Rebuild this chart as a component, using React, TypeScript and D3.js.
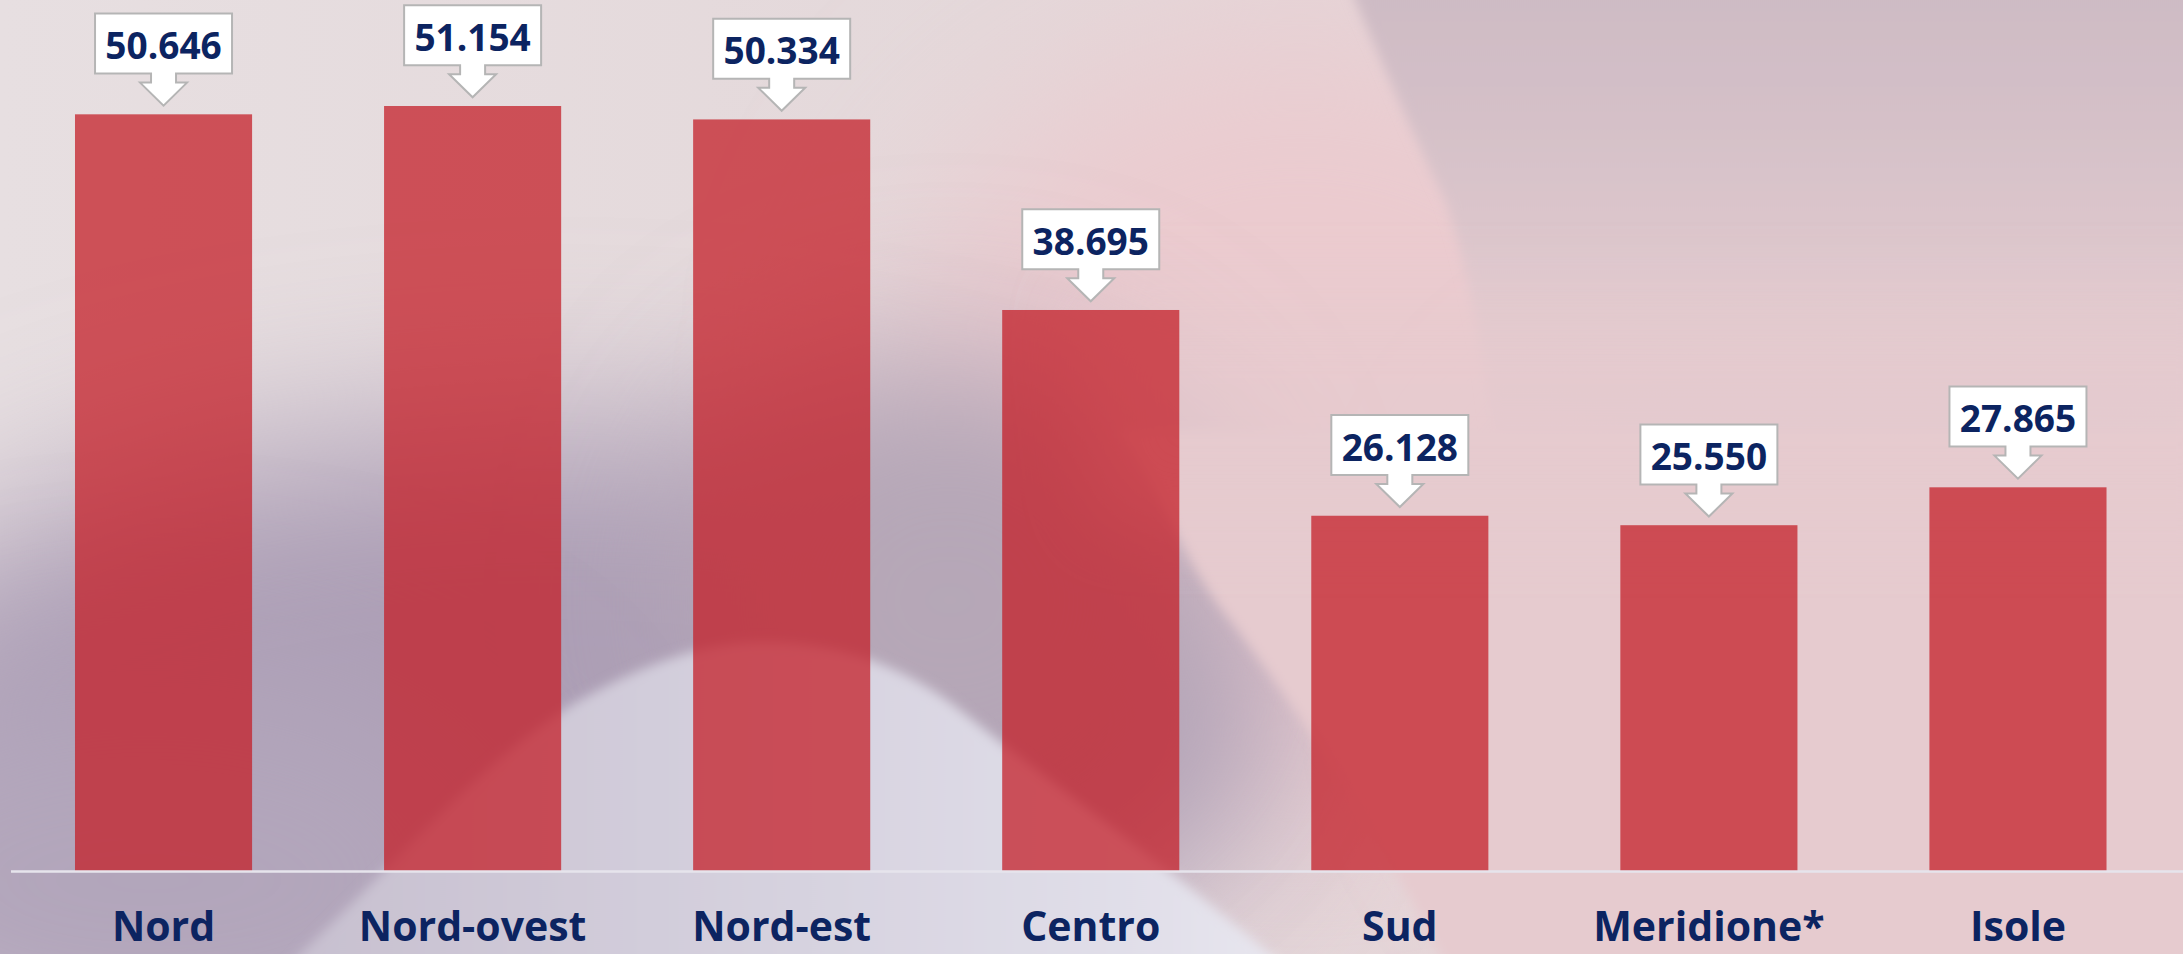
import React from 'react';
import * as d3 from 'd3';

// regions and average values (Italian thousands separator)
const categories = ['Nord', 'Nord-ovest', 'Nord-est', 'Centro', 'Sud', 'Meridione*', 'Isole'];
const values = [50646, 51154, 50334, 38695, 26128, 25550, 27865];
// the source chart's value axis does not start at zero
const axisMin = 4400;
const axisMax = 51154;

const W = 2183;
const H = 954;
const baseline = 871.5;

const itLocale = d3.formatLocale({ decimal: ',', thousands: '.', grouping: [3], currency: ['€', ''] });
const fmt = itLocale.format(',d');

const navy = '#0c2461';

function Background() {
    return (
        <g>
            <defs>
                <linearGradient id="baseGrad" x1="0" x2="1" y1="0" y2="0">
                    <stop offset="0" stopColor="#e7dfe1" />
                    <stop offset="0.45" stopColor="#e4d8da" />
                    <stop offset="1" stopColor="#e6d0d4" />
                </linearGradient>
                <linearGradient id="topRightGrad" x1="0" x2="0" y1="0" y2="1">
                    <stop offset="0" stopColor="#cbb9c3" />
                    <stop offset="0.2" stopColor="#d3bfc7" />
                    <stop offset="0.45" stopColor="#dfc8cd" />
                    <stop offset="1" stopColor="#e6cdd1" stopOpacity="0" />
                </linearGradient>
                <linearGradient id="swooshGrad" x1="0" x2="1" y1="0" y2="0">
                    <stop offset="0" stopColor="#c6bece" />
                    <stop offset="0.5" stopColor="#d6d2df" />
                    <stop offset="0.85" stopColor="#e2e0ea" />
                    <stop offset="1" stopColor="#eae9f1" />
                </linearGradient>
                <filter id="blurBig" x="-50%" y="-50%" width="200%" height="200%">
                    <feGaussianBlur stdDeviation="90" />
                </filter>
                <filter id="blurMid" x="-50%" y="-50%" width="200%" height="200%">
                    <feGaussianBlur stdDeviation="35" />
                </filter>
                <filter id="blurSmall" x="-20%" y="-20%" width="140%" height="140%">
                    <feGaussianBlur stdDeviation="6" />
                </filter>
            </defs>
            <rect x={0} y={0} width={W} height={H} fill="url(#baseGrad)" />
            {/* pink glow in the middle/right */}
            <ellipse cx={1300} cy={420} rx={420} ry={380} fill="#ebcbcf" filter="url(#blurBig)" />
            <ellipse cx={1900} cy={650} rx={400} ry={300} fill="#e3c8cd" filter="url(#blurBig)" />
            <ellipse cx={2100} cy={880} rx={180} ry={120} fill="#eddfe2" filter="url(#blurMid)" />
            {/* mauve band lower left */}
            <ellipse cx={560} cy={720} rx={720} ry={290} fill="#ac9eb5" filter="url(#blurBig)" />
            <ellipse cx={150} cy={880} rx={380} ry={220} fill="#b2a6bb" filter="url(#blurBig)" />
            <ellipse cx={950} cy={600} rx={260} ry={240} fill="#b6a7b7" filter="url(#blurBig)" />
            {/* mauve fold top right */}
            <path
                d="M1335,-60 L1355,0 C1385,70 1420,150 1445,200 C1465,260 1480,330 1490,420 C1500,520 1520,620 1540,700 L2260,700 L2260,-60 Z"
                fill="url(#topRightGrad)"
                filter="url(#blurSmall)"
            />
            {/* pink fold lower right */}
            <path
                d="M1120,430 C1160,480 1180,560 1230,620 C1290,700 1360,800 1440,954 L1470,1010 L2260,1010 L2260,430 Z"
                fill="#e6cbcf"
                filter="url(#blurSmall)"
            />
            <path d="M1080,300 L2260,300 L2260,520 L1100,520 Z" fill="#e6cbcf" opacity={0.6} filter="url(#blurMid)" />
            {/* light swoosh */}
            <path
                d="M250,1010 L300,954 C400,860 480,760 580,700 C655,658 712,642 762,642 C832,642 900,662 960,710 C1060,790 1160,860 1270,954 L1330,1010 Z"
                fill="url(#swooshGrad)"
                filter="url(#blurSmall)"
            />
        </g>
    );
}

export default function App() {
    const x = d3.scaleBand<string>()
        .domain(categories)
        .range([9, 2172.5])
        .paddingInner(0.427)
        .paddingOuter(0.2135);

    const y = d3.scaleLinear()
        .domain([axisMin, axisMax])
        .range([baseline, 106]);

    const bw = x.bandwidth();

    return (
        <svg
            width={W}
            height={H}
            style={{ position: 'absolute', left: 0, top: 0, display: 'block' }}
            fontFamily="'Open Sans', sans-serif"
        >
            <Background />

            {categories.map((c, i) => (
                <rect
                    key={c}
                    x={x(c)}
                    y={y(values[i])}
                    width={bw}
                    height={baseline - y(values[i])}
                    fill="#c41e27"
                    fillOpacity={0.74}
                />
            ))}

            <line x1={11} x2={W} y1={baseline} y2={baseline} stroke="#e6e4ec" strokeWidth={2.5} />

            {/* down-arrow callouts */}
            {categories.map((c, i) => {
                const cx = (x(c) as number) + bw / 2;
                const top = y(values[i]);
                const bx0 = cx - 68.5;
                const bx1 = cx + 68.5;
                const by0 = top - 100.7;
                const by1 = top - 40.7;
                const hy = top - 31.7;
                const tip = top - 8.7;
                const d = `M${bx0},${by0} H${bx1} V${by1} H${cx + 12.5} V${hy} H${cx + 23.5} L${cx},${tip} L${cx - 23.5},${hy} H${cx - 12.5} V${by1} H${bx0} Z`;
                return (
                    <g key={c}>
                        <path d={d} fill="#ffffff" stroke="#b5b5b5" strokeWidth={2} strokeLinejoin="miter" />
                        <text
                            x={cx}
                            y={(by0 + by1) / 2 + 1}
                            textAnchor="middle"
                            dominantBaseline="central"
                            fontSize={37}
                            fontWeight={700}
                            fill={navy}
                        >
                            {fmt(values[i])}
                        </text>
                    </g>
                );
            })}

            {/* category labels */}
            {categories.map((c) => (
                <text
                    key={c}
                    x={(x(c) as number) + bw / 2}
                    y={941}
                    textAnchor="middle"
                    fontSize={41}
                    fontWeight={700}
                    fill={navy}
                >
                    {c}
                </text>
            ))}
        </svg>
    );
}
